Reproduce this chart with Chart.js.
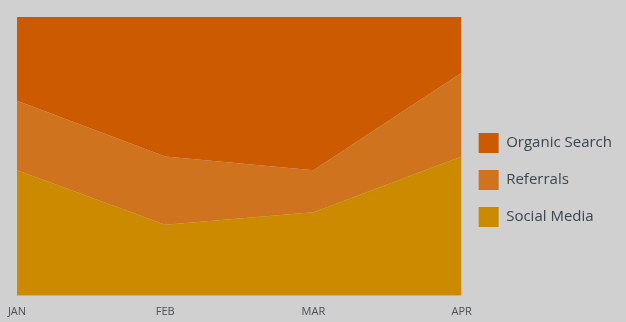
<!DOCTYPE html>
<html>
<head>
<meta charset="utf-8">
<script src="https://cdn.jsdelivr.net/npm/chart.js@4/dist/chart.umd.min.js"></script>
<style>
  html, body { margin: 0; padding: 0; background: #d0d0d0; }
  #wrap { width: 626px; height: 322px; }
</style>
</head>
<body>
<div id="wrap"><canvas id="myChart" width="626" height="322"></canvas></div>
<script>
var months = ["JAN", "FEB", "MAR", "APR"];
var socialMedia = [45, 25.5, 30, 50];
var referrals = [25, 24.5, 15, 30];
var organicSearch = [30, 50, 55, 20];

var ctx = document.getElementById('myChart').getContext("2d");

Chart.defaults.font.family = "'Open Sans', Lato, sans-serif";

var myChart = new Chart(ctx, {
    type: "line",
    data: {
        labels: months,
        datasets: [
            {
                label: 'Social Media',
                data: socialMedia,
                backgroundColor: '#cc8a00',
                borderWidth: 0,
                fill: 'origin'
            },
            {
                label: 'Referrals',
                data: referrals,
                backgroundColor: '#cf731e',
                borderWidth: 0,
                fill: '-1'
            },
            {
                label: 'Organic Search',
                data: organicSearch,
                backgroundColor: '#cc5a00',
                borderWidth: 0,
                fill: '-1'
            }
        ]
    },
    options: {
        responsive: false,
        animation: false,
        elements: { point: { radius: 0 }, line: { tension: 0 } },
        layout: { padding: { left: 17, top: 17, right: 4, bottom: -5 } },
        scales: {
            x: {
                offset: false,
                grid: { display: false, drawTicks: false },
                border: { display: false },
                ticks: { color: '#4a4f55', font: { size: 11 }, padding: 9, maxRotation: 0 },
                afterFit: function (scale) {
                    // labels may overhang the plot edges, like the original
                    scale.paddingLeft = 0;
                    scale.paddingRight = 0;
                }
            },
            y: {
                display: false,
                stacked: true,
                min: 0,
                max: 100
            }
        },
        plugins: {
            tooltip: { enabled: false },
            legend: {
                display: true,
                position: 'right',
                reverse: true,
                title: { display: true, text: ' ', font: { size: 10 }, padding: 2 },
                labels: {
                    boxWidth: 20,
                    boxHeight: 20,
                    padding: 17,
                    color: '#3a4550',
                    font: { size: 15 }
                }
            }
        }
    }
});
</script>
</body>
</html>
